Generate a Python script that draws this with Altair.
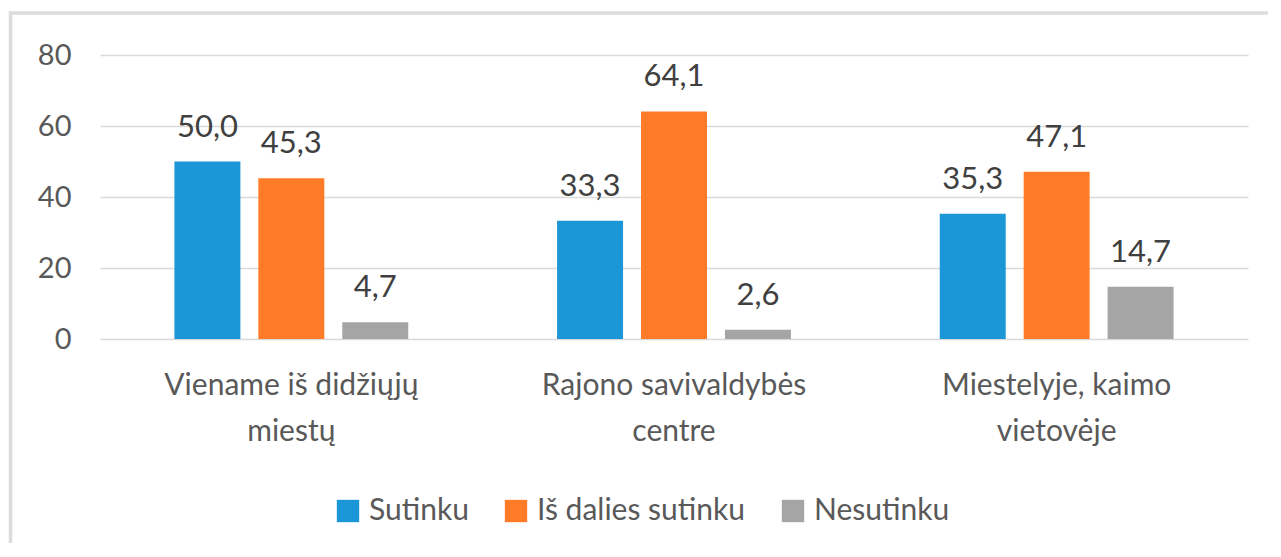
import altair as alt
import pandas as pd

categories = ["Viename iš didžiųjų\nmiestų", "Rajono savivaldybės\ncentre", "Miestelyje, kaimo\nvietovėje"]
series = ["Sutinku", "Iš dalies sutinku", "Nesutinku"]
values = {
    "Sutinku": [50.0, 33.3, 35.3],
    "Iš dalies sutinku": [45.3, 64.1, 47.1],
    "Nesutinku": [4.7, 2.6, 14.7],
}
colors = ["#1B96D6", "#FF7B27", "#A5A5A5"]
y_ticks = [0, 20, 40, 60, 80]

rows = []
for s in series:
    for c, v in zip(categories, values[s]):
        rows.append({"cat": c, "series": s, "value": v, "label": f"{v:.1f}".replace(".", ",")})
df = pd.DataFrame(rows)

FONT = "Lato"
W, H = 1148, 284

x_enc = alt.X("cat:N", sort=categories, title=None,
              scale=alt.Scale(paddingInner=0.342, paddingOuter=0.171),
              axis=alt.Axis(labelExpr="split(datum.label, '\\n')", labelAngle=0,
                            labelFont=FONT, labelFontSize=30, labelColor="#595959",
                            labelLineHeight=46, labelPadding=31, domain=False,
                            labelLimit=600,
                            ticks=False, tickSize=0, labelBaseline="top"))
xo_enc = alt.XOffset("series:N", sort=series,
                     scale=alt.Scale(paddingInner=0.214, paddingOuter=0.107))
y_enc = alt.Y("value:Q", title=None,
              scale=alt.Scale(domain=[0, 80], nice=False),
              axis=alt.Axis(values=y_ticks, labelFont=FONT, labelFontSize=29,
                            labelColor="#595959", labelPadding=29, domain=False,
                            ticks=False, tickSize=0, gridColor="#D9D9D9",
                            gridWidth=1.5))

base = alt.Chart(df)

bars = base.mark_bar().encode(
    x=x_enc, xOffset=xo_enc, y=y_enc,
    color=alt.Color("series:N", sort=series, title=None,
                    scale=alt.Scale(domain=series, range=colors),
                    legend=alt.Legend(orient="none", direction="horizontal",
                                      legendX=233, legendY=441,
                                      symbolType="square", symbolSize=500,
                                      symbolStrokeWidth=0, symbolOpacity=1,
                                      labelFont=FONT, labelFontSize=30,
                                      labelColor="#595959", labelOffset=6,
                                      columnPadding=32, labelLimit=400)),
)

texts = base.mark_text(font=FONT, fontSize=31, color="#404040",
                       baseline="alphabetic", dy=-25).encode(
    x=alt.X("cat:N", sort=categories), xOffset=alt.XOffset("series:N", sort=series),
    y=alt.Y("value:Q"), text="label:N",
)

frame = alt.Data(values=[{}])
border_v = alt.Chart(frame).mark_rule(stroke="#DCDCDC", strokeWidth=3.5).encode(
    x=alt.value(-89.5), y=alt.value(-43.5), y2=alt.value(700))
border_h = alt.Chart(frame).mark_rule(stroke="#DCDCDC", strokeWidth=3.5).encode(
    x=alt.value(-91), x2=alt.value(1400), y=alt.value(-42))

chart = alt.layer(border_v, border_h, bars, texts).properties(
    width=W, height=H,
    autosize=alt.AutoSizeParams(type="none"),
    padding={"left": 92, "top": 47, "right": 20, "bottom": 204},
).configure(background="white").configure_view(strokeWidth=0, stroke="transparent")

chart.save("out.html", embed_options={"renderer": "svg", "actions": False})
